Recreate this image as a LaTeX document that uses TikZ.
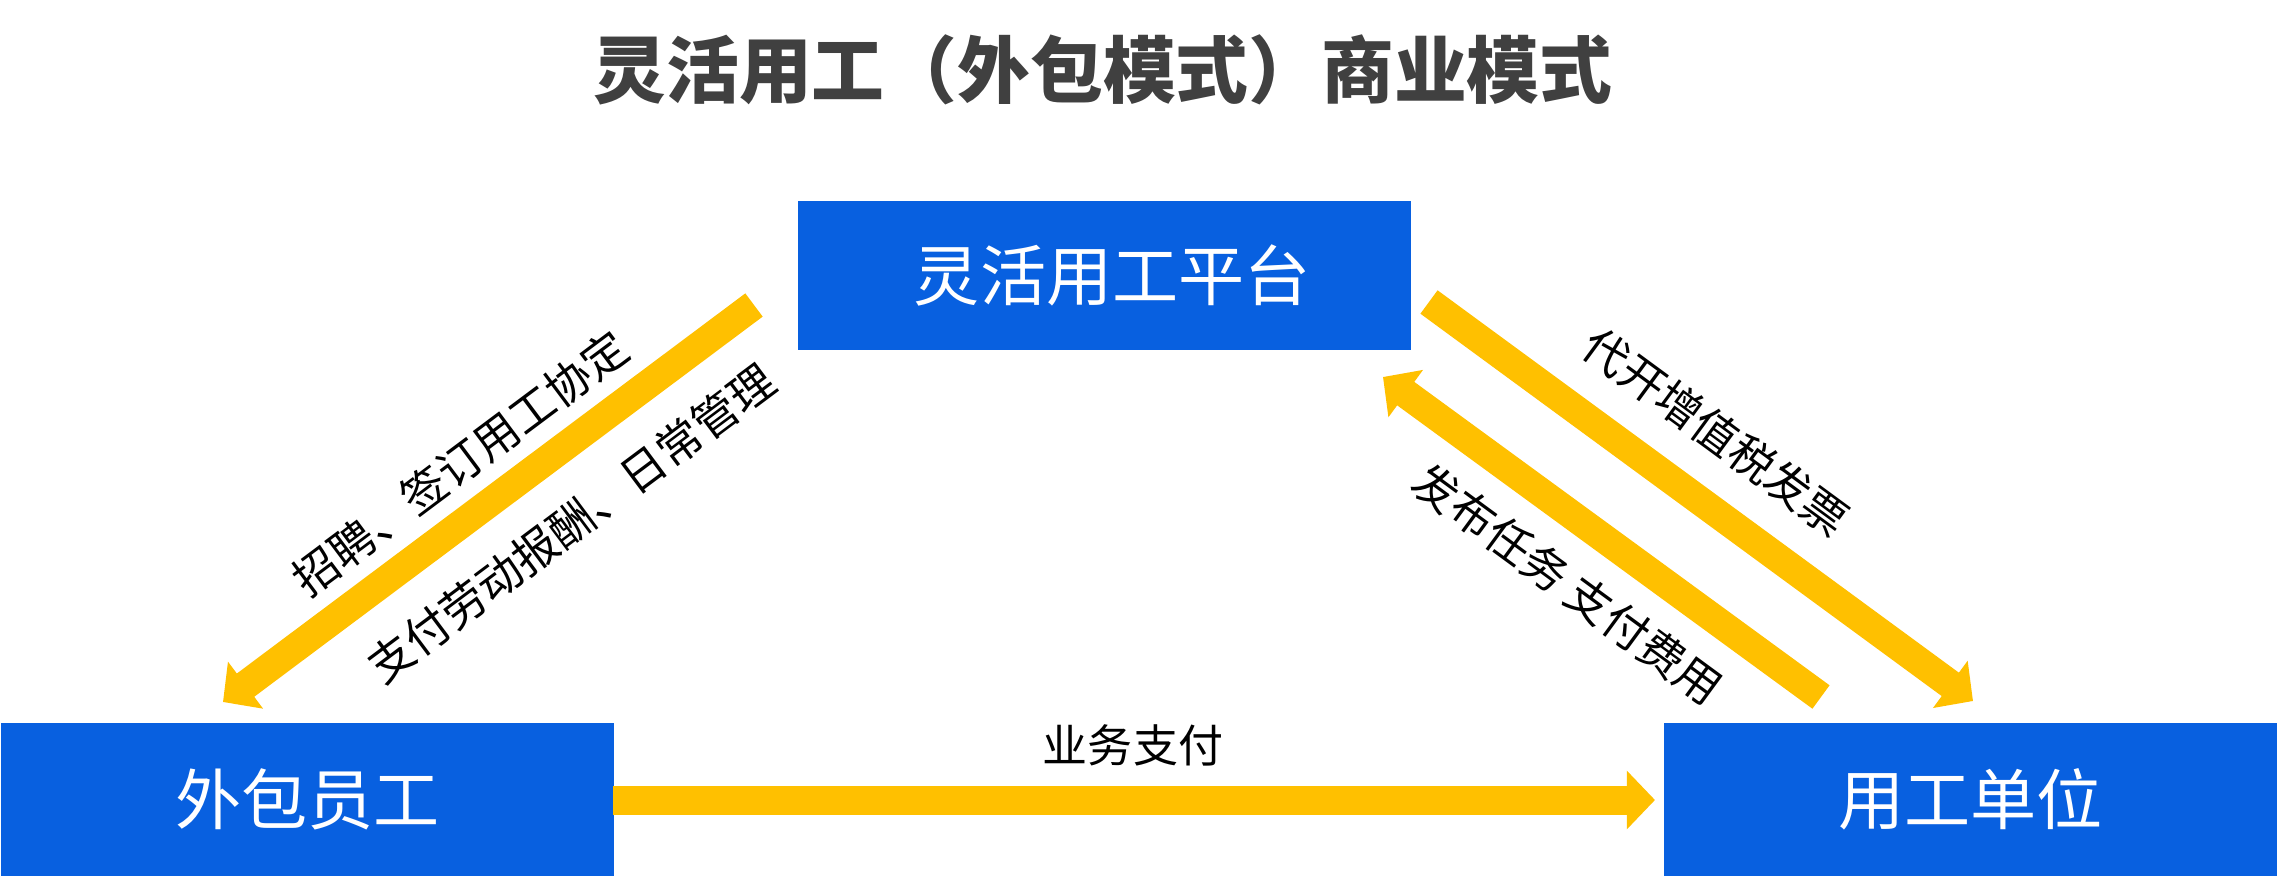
\documentclass[tikz,border=0pt]{standalone}
\usepackage{fontspec}
\newfontfamily\cjk{Noto Sans CJK SC}
\usetikzlibrary{arrows.meta}
\definecolor{boxblue}{HTML}{0860E0}
\definecolor{arrowyellow}{HTML}{FFC000}
\definecolor{titlegray}{HTML}{404040}
\tikzset{
  bluebox/.style={rectangle, fill=boxblue, draw=none, inner sep=0pt, text=white,
    minimum width=6.13cm, font=\cjk\fontsize{18.8pt}{22pt}\selectfont},
  yarrow/.style={draw=arrowyellow, line width=8.25pt,
    -{Triangle[length=8pt,width=16.2pt]}},
  lbl/.style={inner sep=0pt, text=black, font=\cjk\fontsize{12.8pt}{15pt}\selectfont},
}
\begin{document}
\begin{tikzpicture}[x=0.01cm,y=-0.01cm]
\useasboundingbox (0,0) rectangle (2277,875);
\fill[white] (0,0) rectangle (2277,875);
\node[inner sep=0pt, text=titlegray, font=\cjk\bfseries\fontsize{20.7pt}{24pt}\selectfont] (title) at (1103,70) {灵活用工（外包模式）商业模式};
\node[bluebox, minimum height=1.49cm, anchor=north west] (plat) at (797,200) {\hspace*{4.5pt}灵活用工平台};
\node[bluebox, minimum height=1.53cm, anchor=north west] (emp) at (0,722) {外包员工};
\node[bluebox, minimum height=1.53cm, anchor=north west] (unit) at (1663,722) {用工单位};
\coordinate (l1) at (754,305);
\coordinate (l2) at (223,702);
\coordinate (r1) at (1429,302);
\coordinate (r2) at (1973,701);
\coordinate (b1) at (1821,697);
\coordinate (b2) at (1383,377);
\coordinate (h1) at (613,800);
\coordinate (h2) at (1655,800);
\draw[yarrow] (l1) -- (l2);
\draw[yarrow] (r1) -- (r2);
\draw[yarrow] (b1) -- (b2);
\draw[yarrow] (h1) -- (h2);
\node[lbl, rotate=36.8] (t1) at (460,463) {招聘、签订用工协定};
\node[lbl, rotate=36.8] (t2) at (571,523) {支付劳动报酬、日常管理};
\node[lbl] (t3) at (1133,745) {业务支付};
\node[lbl, rotate=-36.3] (t4) at (1716,432) {代开增值税发票};
\node[lbl, rotate=-36.3] (t5) at (1568,584) {发布任务 支付费用};
\end{tikzpicture}
\end{document}
